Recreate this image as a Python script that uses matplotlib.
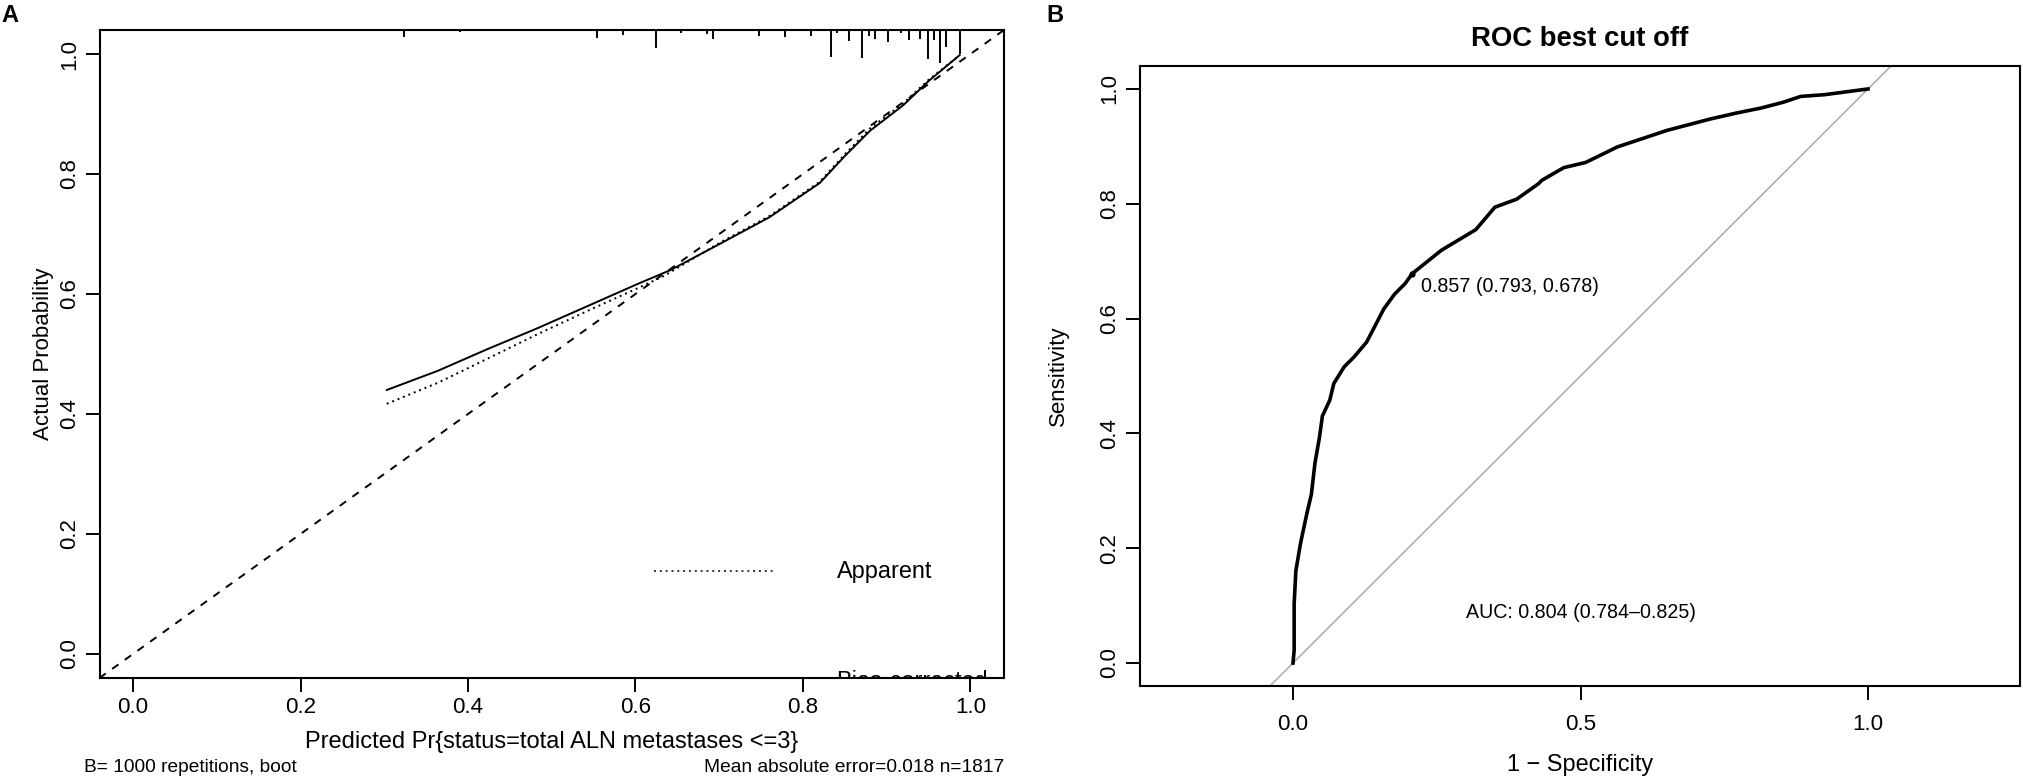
import numpy as np
import matplotlib
matplotlib.use("Agg")
import matplotlib.pyplot as plt
from matplotlib import font_manager


def has_font(name):
    try:
        font_manager.findfont(font_manager.FontProperties(family=name), fallback_to_default=False)
        return True
    except ValueError:
        return False


# the original uses a narrow Helvetica; without it, a regular face is sized a bit wider
NARROW_OK = has_font("Liberation Sans Narrow")
HFONT = "Liberation Sans Narrow" if NARROW_OK else "Liberation Sans"
WIDEN = 1.0 if NARROW_OK else 1.09
plt.rcParams["font.family"] = [HFONT, "DejaVu Sans"]

# ---- panel A: calibration curve ----
cal_ticks = [0.0, 0.2, 0.4, 0.6, 0.8, 1.0]

bias_x = [0.303, 0.364, 0.423, 0.483, 0.543, 0.603, 0.642, 0.70, 0.76, 0.82, 0.85, 0.88, 0.92, 0.95, 0.987]
bias_y = [0.440, 0.472, 0.508, 0.543, 0.580, 0.617, 0.640, 0.683, 0.728, 0.785, 0.830, 0.872, 0.915, 0.955, 0.998]

app_x = [0.303, 0.364, 0.423, 0.483, 0.543, 0.603, 0.634, 0.70, 0.76, 0.82, 0.85, 0.88, 0.92, 0.95, 0.987]
app_y = [0.417, 0.452, 0.492, 0.533, 0.572, 0.610, 0.630, 0.685, 0.730, 0.787, 0.833, 0.876, 0.918, 0.957, 0.998]

# rug of predicted values along the top axis (relative frequency)
rug_x = [0.214, 0.275, 0.323, 0.391, 0.415, 0.453, 0.485, 0.492, 0.554, 0.562,
         0.585, 0.609, 0.624, 0.654, 0.685, 0.693, 0.709, 0.748, 0.770, 0.778,
         0.800, 0.810, 0.823, 0.833, 0.841, 0.855, 0.865, 0.871, 0.879, 0.886,
         0.895, 0.902, 0.910, 0.917, 0.926, 0.933, 0.940, 0.949, 0.956, 0.964,
         0.971, 0.987]
rug_freq = [1, 1, 7, 2, 1, 1, 1, 1, 8, 1,
            5, 1, 18, 3, 4, 9, 1, 6, 1, 7,
            1, 6, 1, 27, 3, 11, 1, 28, 6, 9,
            1, 12, 1, 3, 10, 1, 9, 29, 10, 33,
            17, 24]

cal_xlabel = "Predicted Pr{status=total ALN metastases <=3}"
cal_ylabel = "Actual Probability"
cal_note_left = "B= 1000 repetitions, boot"
cal_note_right = "Mean absolute error=0.018 n=1817"

# ---- panel B: ROC curve ----
roc_ticks_x = [0.0, 0.5, 1.0]
roc_ticks_y = [0.0, 0.2, 0.4, 0.6, 0.8, 1.0]
roc_fpr = [0, 0.002, 0.002, 0.005, 0.013, 0.024, 0.032, 0.038, 0.046, 0.050, 0.051,
           0.064, 0.071, 0.089, 0.106, 0.128, 0.142, 0.158, 0.177, 0.195, 0.207,
           0.258, 0.318, 0.351, 0.389, 0.427, 0.433, 0.471, 0.509, 0.564, 0.651,
           0.727, 0.771, 0.815, 0.853, 0.883, 0.924, 1.0]
roc_tpr = [0, 0.022, 0.103, 0.161, 0.208, 0.260, 0.294, 0.347, 0.393, 0.422, 0.430,
           0.458, 0.487, 0.516, 0.533, 0.559, 0.586, 0.617, 0.643, 0.661, 0.678,
           0.719, 0.755, 0.794, 0.808, 0.835, 0.841, 0.863, 0.872, 0.899, 0.928,
           0.948, 0.958, 0.967, 0.977, 0.987, 0.990, 1.0]
cut_threshold = 0.857
cut_spec = 0.793
cut_sens = 0.678
auc_text = "AUC: 0.804 (0.784\u20130.825)"
roc_title = "ROC best cut off"
roc_xlabel = "1 \u2212 Specificity"
roc_ylabel = "Sensitivity"

W, H = 2023, 778
fig = plt.figure(figsize=(W / 100, H / 100), dpi=100)
renderer = fig.canvas.get_renderer()


def fit_size(text, target_px, weight="normal", base=20.0):
    # font size giving the text about the width it has in the reference
    t = fig.text(0, 0, text, fontsize=base, fontweight=weight)
    w = t.get_window_extent(renderer=renderer).width
    t.remove()
    return base * target_px / w * WIDEN


tick_fs = fit_size("0.6", 28.5)
xlab_fs = fit_size(cal_xlabel, 451)
note_fs = fit_size(cal_note_left, 196)
leg_fs = fit_size("Apparent", 87)
thr_text = f"{cut_threshold:.3f} ({cut_spec:.3f}, {cut_sens:.3f})"
thr_fs = fit_size(thr_text, 163)
auc_fs = fit_size(auc_text, 210)
title_fs = fit_size(roc_title, 199, weight="bold")
spec_fs = fit_size(roc_xlabel, 134)
vert_fs = 16


def style_axes(ax):
    for s in ax.spines.values():
        s.set_linewidth(1.5)
        s.set_color("black")
    ax.tick_params(direction="out", length=10, width=1.4, labelsize=tick_fs, pad=4, colors="black")


# ================= panel A =================
ax = fig.add_axes([99.5 / W, 1 - 678 / H, (1004 - 99.5) / W, (678 - 30) / H])
ax.set_xlim(-0.04, 1.04)
ax.set_ylim(-0.04, 1.04)
ax.axline((0, 0), (1, 1), color="black", lw=1.4, dashes=(4, 4))
ax.plot(app_x, app_y, color="black", lw=1.4, dashes=(1, 2))
ax.plot(bias_x, bias_y, color="black", lw=1.4)
top = 1.04
ax.vlines(rug_x, top - np.array(rug_freq) / 600.0, top, color="black", lw=1.4)

# legend (partly clipped by the plot region, as in the original)
ax.plot([0.622, 0.764], [0.138, 0.138], color="#333333", lw=1.4, dashes=(1, 2))
ax.text(0.84, 0.138, "Apparent", fontsize=leg_fs, va="center", ha="left")
cap_px = 0.72 * leg_fs * 100 / 72
ax.text(0.84, 1.04 - (671 + cap_px - 30) / 600, "Bias-corrected", fontsize=leg_fs,
        va="baseline", ha="left", clip_on=True)

style_axes(ax)
ax.set_xticks(cal_ticks)
ax.set_xticklabels([f"{t:.1f}" for t in cal_ticks])
ax.set_yticks(cal_ticks)
ax.set_yticklabels([f"{t:.1f}" for t in cal_ticks], rotation=90, va="center", fontsize=vert_fs)

fig.text((99.5 + 1004) / 2 / W, 1 - 742 / H, cal_xlabel, fontsize=xlab_fs, ha="center", va="center")
fig.text(44 / W, 1 - 354 / H, cal_ylabel, fontsize=vert_fs, rotation=90, ha="center", va="center")
fig.text(84 / W, 1 - 767 / H, cal_note_left, fontsize=note_fs, ha="left", va="center")
fig.text(1004 / W, 1 - 767 / H, cal_note_right, fontsize=note_fs, ha="right", va="center")
fig.text(1 / W, 1 - 16 / H, "A", fontsize=17, fontweight="bold", ha="left", va="center",
         family="Liberation Sans")

# ================= panel B =================
bx = fig.add_axes([1140 / W, 1 - 686 / H, (2020 - 1140) / W, (686 - 66) / H])
bx.set_xlim((1140 - 1293) / 575, (2020 - 1293) / 575)
bx.set_ylim(-0.04, 1.04)
bx.axline((0, 0), (1, 1), color="#a9a9a9", lw=1.1)
bx.plot(roc_fpr, roc_tpr, color="black", lw=2.6, solid_joinstyle="round")
bx.plot([1 - cut_spec], [cut_sens], "o", color="black", ms=3.5)
bx.text(1 - cut_spec + 0.016, cut_sens - 0.022, thr_text, fontsize=thr_fs,
        ha="left", va="center")
bx.text(0.30, 0.088, auc_text, fontsize=auc_fs, ha="left", va="center")

style_axes(bx)
bx.set_xticks(roc_ticks_x)
bx.set_xticklabels([f"{t:.1f}" for t in roc_ticks_x])
bx.set_yticks(roc_ticks_y)
bx.set_yticklabels([f"{t:.1f}" for t in roc_ticks_y], rotation=90, va="center", fontsize=vert_fs)
bx.tick_params(axis="x", pad=10)

fig.text(1580 / W, 1 - 39 / H, roc_title, fontsize=title_fs, fontweight="bold",
         ha="center", va="center")
fig.text(1580 / W, 1 - 765 / H, roc_xlabel, fontsize=spec_fs, ha="center", va="center")
fig.text(1058 / W, 1 - 376 / H, roc_ylabel, fontsize=vert_fs, rotation=90,
         ha="center", va="center")
fig.text(1046 / W, 1 - 15 / H, "B", fontsize=17, fontweight="bold", ha="left", va="center",
         family="Liberation Sans")

fig.savefig("out.png", dpi=100)
